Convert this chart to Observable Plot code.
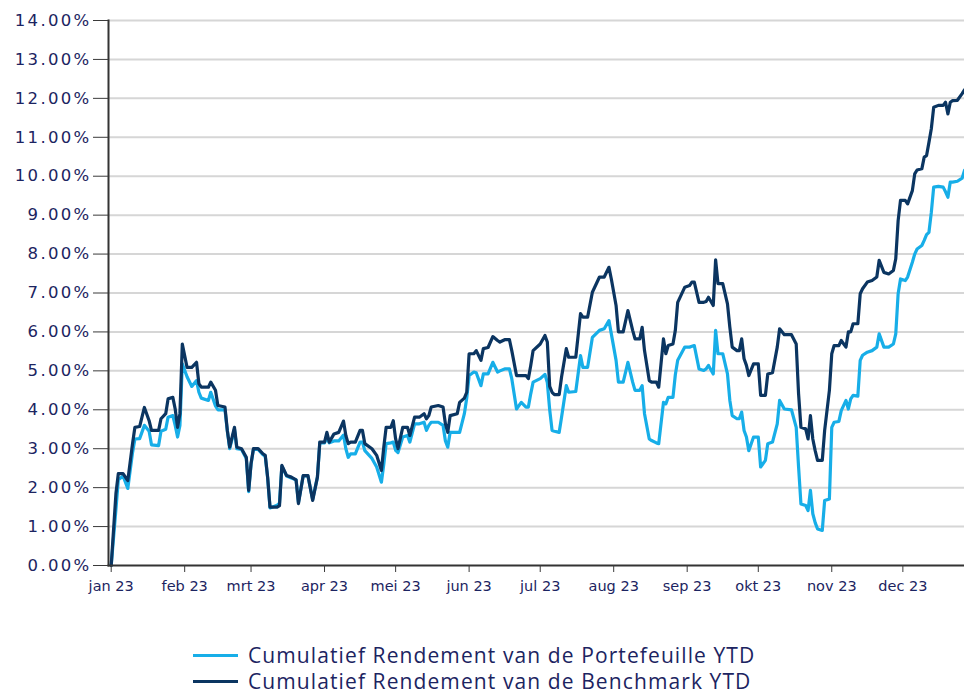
<!DOCTYPE html>
<html>
<head>
<meta charset="utf-8">
<script src="https://cdn.jsdelivr.net/npm/d3@7"></script>
<script src="https://cdn.jsdelivr.net/npm/@observablehq/plot@0.6"></script>
<style>
  html, body { margin: 0; padding: 0; background: #fff; }
  #wrap { position: relative; width: 964px; height: 694px; overflow: hidden; }
  #chart svg { display: block; }
  g[aria-label="y-axis tick"] { color: #3a3a3a; }
  g[aria-label="x-axis tick"] { color: #3a3a3a; }
  g[aria-label="y-axis tick label"] { color: #1c2461; font-family: "DejaVu Sans", sans-serif; font-size: 16.5px; letter-spacing: 2.3px; }
  g[aria-label="x-axis tick label"] { color: #1c2461; font-family: "DejaVu Sans", sans-serif; font-size: 14.5px; }
  .legend { position: absolute; left: 193px; font-family: "Open Sans", sans-serif; font-size: 21px; letter-spacing: 1.1px; color: #1c2461; display: flex; align-items: center; white-space: nowrap; line-height: 24px; }
  .legend .sw { width: 45px; height: 3px; margin-right: 10px; }
</style>
</head>
<body>
<div id="wrap">
  <div id="chart"></div>
  <div class="legend" style="top:643px"><span class="sw" style="background:#17aee8"></span><span>Cumulatief Rendement van de Portefeuille YTD</span></div>
  <div class="legend" style="top:669px"><span class="sw" style="background:#0b3561"></span><span>Cumulatief Rendement van de Benchmark YTD</span></div>
</div>
<script>
const seriesNames = ["Cumulatief Rendement van de Portefeuille YTD", "Cumulatief Rendement van de Benchmark YTD"];
const seriesColors = ["#17aee8", "#0b3561"];
const monthLabels = ["jan 23","feb 23","mrt 23","apr 23","mei 23","jun 23","jul 23","aug 23","sep 23","okt 23","nov 23","dec 23"];
const yTicks = [0,1,2,3,4,5,6,7,8,9,10,11,12,13,14];

const dates = [
"01-01","01-03","01-04","01-06","01-08","01-10","01-11","01-13","01-15","01-17","01-18","01-21","01-22","01-24","01-25","01-27","01-28","01-29","01-30","01-31",
"02-02","02-04","02-06","02-07","02-08","02-11","02-12","02-14","02-15","02-18","02-19","02-20","02-22","02-23","02-25","02-27","02-28",
"03-01","03-02","03-04","03-06","03-07","03-08","03-09","03-12","03-13","03-14","03-16","03-18","03-20","03-21","03-23","03-25","03-27","03-29","03-30",
"04-01","04-02","04-03","04-05","04-07","04-09","04-10","04-11","04-12","04-14","04-16","04-17","04-18","04-21","04-23","04-25","04-26","04-27","04-29","04-30",
"05-01","05-02","05-04","05-06","05-07","05-09","05-11","05-13","05-14","05-15","05-16","05-19","05-21","05-22","05-23","05-24","05-27","05-28","05-30","05-31",
"06-01","06-03","06-04","06-06","06-07","06-09","06-11","06-13","06-14","06-16","06-18","06-19","06-21","06-23","06-25","06-26","06-27","06-28",
"07-01","07-03","07-04","07-05","07-06","07-07","07-09","07-10","07-12","07-13","07-16","07-18","07-19","07-21","07-23","07-26","07-28","07-30","07-31",
"08-02","08-03","08-05","08-07","08-09","08-10","08-12","08-13","08-14","08-16","08-17","08-19","08-20","08-22","08-23","08-24","08-26","08-27","08-28","08-31",
"09-02","09-03","09-04","09-06","09-08","09-09","09-10","09-12","09-13","09-14","09-16","09-18","09-19","09-20","09-22","09-23","09-24","09-25","09-26","09-27","09-29",
"10-01","10-02","10-04","10-05","10-07","10-09","10-10","10-12","10-15","10-17","10-18","10-19","10-21","10-22","10-23","10-24","10-25","10-26","10-28","10-29","10-31",
"11-01","11-02","11-04","11-05","11-07","11-08","11-09","11-10","11-12","11-13","11-14","11-16","11-18","11-20","11-21","11-23","11-25","11-27","11-28","11-29","11-30",
"12-02","12-03","12-05","12-06","12-07","12-09","12-10","12-11","12-12","12-13","12-14","12-16","12-18","12-19","12-20","12-21","12-22","12-24","12-26","12-27"
];

const benchmark = [
0,1.85,2.36,2.36,2.18,3.13,3.55,3.57,4.06,3.72,3.47,3.47,3.77,3.90,4.28,4.32,4.02,3.55,3.90,5.69,
5.09,5.09,5.22,4.67,4.58,4.58,4.71,4.50,4.11,4.07,3.47,3.04,3.55,3.04,3.00,2.78,1.93,
2.62,3.00,3.00,2.87,2.83,2.27,1.50,1.50,1.54,2.57,2.31,2.27,2.20,1.59,2.31,2.31,1.67,2.27,3.17,
3.17,3.42,3.17,3.38,3.42,3.71,3.34,3.13,3.17,3.17,3.47,3.47,3.13,3.00,2.83,2.44,3.04,3.55,3.55,3.72,
3.25,3.00,3.55,3.55,3.34,3.81,3.81,3.90,3.77,3.85,4.07,4.11,4.07,3.64,3.42,3.85,3.90,4.19,4.30,4.45,
5.44,5.44,5.52,5.27,5.57,5.60,5.88,5.78,5.74,5.80,5.80,5.52,4.88,4.88,4.88,4.80,5.14,5.52,
5.69,5.91,5.74,4.60,4.45,4.39,4.39,4.84,5.57,5.35,5.35,6.47,6.38,6.38,7.02,7.41,7.41,7.66,7.36,
6.68,6.00,6.00,6.55,6.04,5.82,5.82,6.12,5.52,4.75,4.71,4.71,4.58,5.82,5.44,5.65,5.69,6.04,6.76,7.15,
7.19,7.28,7.28,6.76,6.76,6.78,6.89,6.68,7.85,7.24,7.24,6.72,6.12,5.61,5.52,5.52,5.82,5.31,5.14,4.88,5.18,
5.18,4.37,4.37,4.92,4.95,5.61,6.08,5.93,5.93,5.69,4.41,3.55,3.51,3.25,3.85,3.25,2.95,2.70,2.70,3.47,4.50,
5.44,5.65,5.65,5.78,5.61,6.00,6.00,6.21,6.21,6.98,7.11,7.28,7.32,7.41,7.84,7.53,7.49,7.58,7.88,8.86,9.38,
9.38,9.29,9.63,10.06,10.16,10.19,10.49,10.53,10.87,11.22,11.77,11.82,11.82,11.90,11.60,11.90,11.94,11.95,12.12,12.22
];

const portefeuille = [
0,1.45,2.20,2.30,1.98,2.90,3.25,3.26,3.60,3.45,3.10,3.08,3.45,3.50,3.81,3.85,3.60,3.30,3.60,5.18,
4.85,4.60,4.75,4.45,4.30,4.24,4.45,4.10,4.00,4.00,3.45,3.00,3.50,3.00,2.98,2.75,1.90,
2.60,2.98,2.98,2.85,2.80,2.25,1.48,1.55,1.60,2.55,2.30,2.25,2.20,1.62,2.30,2.30,1.70,2.27,3.15,
3.15,3.30,3.15,3.20,3.20,3.35,3.00,2.78,2.87,2.87,3.17,3.17,2.95,2.75,2.53,2.14,2.60,3.13,3.15,3.17,
2.96,2.90,3.30,3.34,3.17,3.64,3.64,3.68,3.47,3.60,3.68,3.68,3.60,3.20,3.04,3.42,3.42,3.42,3.90,4.30,
4.88,4.97,4.95,4.62,4.92,4.92,5.22,4.97,5.00,5.05,5.05,4.80,4.02,4.19,4.07,4.07,4.41,4.71,
4.80,4.91,4.70,4.00,3.47,3.45,3.42,3.81,4.62,4.45,4.47,5.39,5.09,5.09,5.86,6.04,6.08,6.29,5.95,
5.27,4.71,4.71,5.22,4.71,4.50,4.50,4.62,3.90,3.25,3.21,3.15,3.13,4.19,4.15,4.32,4.32,4.90,5.27,5.61,
5.61,5.63,5.65,5.05,5.01,5.05,5.14,4.92,6.04,5.44,5.44,4.92,4.24,3.85,3.77,3.77,3.94,3.47,3.30,2.95,3.30,
3.30,2.53,2.70,3.13,3.17,3.64,4.24,4.02,4.00,3.55,2.53,1.58,1.54,1.41,1.93,1.33,1.10,0.94,0.90,1.67,1.71,
3.55,3.68,3.70,3.98,4.24,4.02,4.28,4.37,4.35,5.27,5.40,5.48,5.52,5.61,5.95,5.61,5.61,5.69,5.95,6.98,7.36,
7.32,7.41,7.79,8.00,8.13,8.22,8.35,8.50,8.56,9.07,9.72,9.74,9.72,9.60,9.46,9.85,9.85,9.87,9.95,10.15
];

const parse = d3.utcParse("%Y-%m-%d");
const rows = [];
dates.forEach((d, i) => {
  rows.push({date: parse("2023-" + d), value: portefeuille[i], series: seriesNames[0]});
});
dates.forEach((d, i) => {
  rows.push({date: parse("2023-" + d), value: benchmark[i], series: seriesNames[1]});
});
const monthTicks = monthLabels.map((_, i) => new Date(Date.UTC(2023, i, 1)));

const chart = Plot.plot({
  width: 964,
  height: 610,
  marginLeft: 108,
  marginRight: 0,
  marginTop: 20,
  marginBottom: 45,
  x: {type: "utc", domain: [parse("2023-01-01"), parse("2023-12-27")], range: [110.7, 964]},
  y: {domain: [0, 14], range: [565, 20]},
  color: {domain: seriesNames, range: seriesColors},
  marks: [
    Plot.ruleY(yTicks.slice(1), {stroke: "#d6d6d6", strokeWidth: 2}),
    Plot.line(rows, {x: "date", y: "value", stroke: "series", strokeWidth: 3.2, curve: "linear"}),
    Plot.frame({anchor: "left", stroke: "#333", strokeWidth: 2}),
    Plot.frame({anchor: "bottom", stroke: "#333", strokeWidth: 2}),
    Plot.axisY({ticks: yTicks, tickFormat: d => d.toFixed(2) + "%", tickSize: 15, tickPadding: 2, label: null}),
    Plot.axisX({ticks: monthTicks, tickFormat: d => monthLabels[d.getUTCMonth()], tickSize: 7, tickPadding: 8, label: null})
  ]
});
document.getElementById("chart").appendChild(chart);
</script>
</body>
</html>
